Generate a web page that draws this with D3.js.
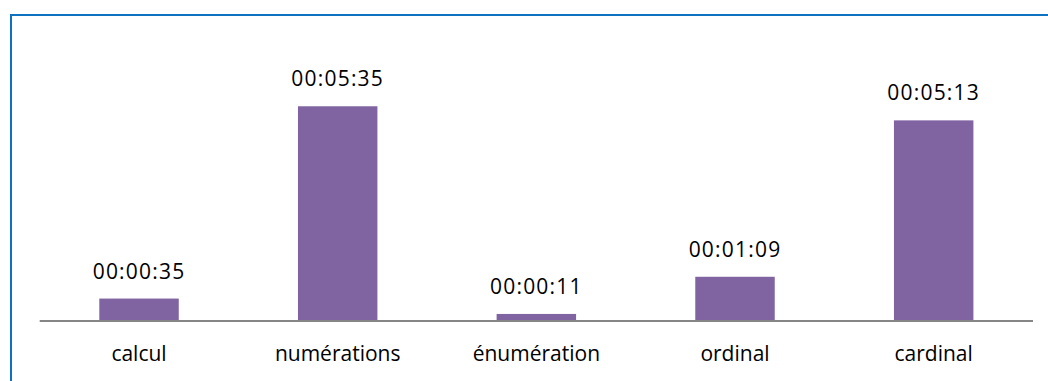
<!DOCTYPE html>
<html>
<head>
<meta charset="utf-8">
<script src="https://cdn.jsdelivr.net/npm/d3@7"></script>
<style>
  html, body { margin: 0; padding: 0; background: #fff; }
  svg { display: block; }
  text { font-family: "Open Sans", sans-serif; fill: #000; }
</style>
</head>
<body>
<svg id="chart" width="1048" height="381"></svg>
<script>
const categories = ["calcul", "numérations", "énumération", "ordinal", "cardinal"];
const durationsSec = [35, 335, 11, 69, 313];
const valueLabels = ["00:00:35", "00:05:35", "00:00:11", "00:01:09", "00:05:13"];

const svg = d3.select("#chart");
const W = 1048, H = 381;

// outer frame (extends past right/bottom edge)
svg.append("rect")
  .attr("x", 11).attr("y", 15)
  .attr("width", W + 20).attr("height", H + 20)
  .attr("fill", "none").attr("stroke", "#0E72C1").attr("stroke-width", 2);

const left = 39.7, right = 1033, baseY = 321;
const x = d3.scaleBand().domain(categories).range([left, right]).paddingInner(0.6).paddingOuter(0.3);
const y = d3.scaleLinear().domain([0, 360]).range([baseY, baseY - 360 * 0.641]);

const g = svg.append("g");

g.selectAll("rect.bar").data(categories).join("rect")
  .attr("class", "bar")
  .attr("x", d => x(d))
  .attr("width", x.bandwidth())
  .attr("y", (d, i) => y(durationsSec[i]))
  .attr("height", (d, i) => baseY - y(durationsSec[i]))
  .attr("fill", "#8064A2");

// category axis
const axis = d3.axisBottom(x).tickSize(0).tickPadding(0);
const ax = g.append("g").attr("transform", `translate(0,${baseY})`).call(axis);
ax.select(".domain").attr("stroke", "#868686").attr("stroke-width", 2)
  .attr("d", `M${left},0H${right}`);
ax.selectAll(".tick text")
  .attr("y", 40)
  .attr("dy", null)
  .style("font-family", "'Open Sans', sans-serif")
  .style("font-size", "21px")
  .attr("fill", "#000");

// value labels
g.selectAll("text.val").data(categories).join("text")
  .attr("class", "val")
  .attr("x", d => x(d) + x.bandwidth() / 2)
  .attr("y", (d, i) => y(durationsSec[i]) - 20)
  .attr("text-anchor", "middle")
  .style("font-size", "21px")
  .style("letter-spacing", "1.2px")
  .text((d, i) => valueLabels[i]);
</script>
</body>
</html>
